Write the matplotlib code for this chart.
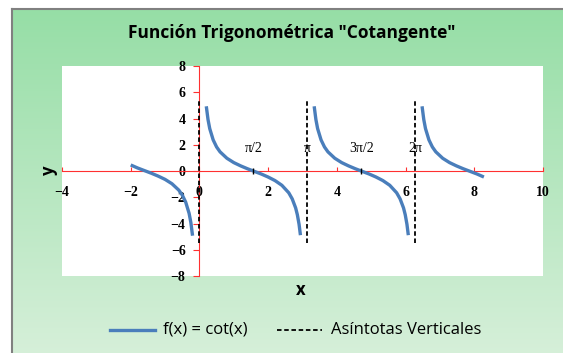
import matplotlib.pyplot as plt
import numpy as np
from matplotlib.lines import Line2D

# cot(x) samples, one list per branch
x1 = [-2.0, -1.8, -1.6, -1.4, -1.2, -1.0, -0.8, -0.6, -0.5, -0.4, -0.3, -0.25, -0.2]
y1 = [0.46, 0.23, 0.03, -0.17, -0.39, -0.64, -0.97, -1.46, -1.83, -2.37, -3.23, -3.92, -4.93]

x2 = [0.2, 0.25, 0.3, 0.4, 0.5, 0.6, 0.8, 1.0, 1.2, 1.4, 1.6, 1.8, 2.0, 2.2, 2.4, 2.6, 2.7, 2.8, 2.85, 2.9, 2.94]
y2 = [4.93, 3.92, 3.23, 2.37, 1.83, 1.46, 0.97, 0.64, 0.39, 0.17, -0.03, -0.23, -0.46, -0.73, -1.09, -1.66, -2.12, -2.81, -3.33, -4.06, -4.89]

x3 = [3.34, 3.39, 3.44, 3.54, 3.64, 3.74, 3.94, 4.14, 4.34, 4.54, 4.74, 4.94, 5.14, 5.34, 5.54, 5.74, 5.84, 5.94, 5.99, 6.04, 6.08]
y3 = [4.93, 3.92, 3.23, 2.37, 1.83, 1.46, 0.97, 0.64, 0.39, 0.17, -0.03, -0.23, -0.46, -0.73, -1.09, -1.66, -2.12, -2.81, -3.33, -4.06, -4.89]

x4 = [6.48, 6.53, 6.58, 6.68, 6.78, 6.88, 7.08, 7.28, 7.48, 7.68, 7.88, 8.08, 8.28]
y4 = [4.93, 3.92, 3.23, 2.37, 1.83, 1.46, 0.97, 0.64, 0.39, 0.17, -0.03, -0.23, -0.46]

asint_x = [0.0, 3.1416, 6.2832]
asint_y = [-5.5, 5.5]

marca_x = [1.5708, 3.1416, 4.7124, 6.2832]
marca_txt = ["π/2", "π", "3π/2", "2π"]
marca_y = 1.2

xticks = [-4, -2, 0, 2, 4, 6, 8, 10]
yticks = [-8, -6, -4, -2, 0, 2, 4, 6, 8]

azul = "#4A7EBB"
W, H = 563, 353

fig = plt.figure(figsize=(W / 100, H / 100), dpi=100)

# fondo degradado verde
bg = fig.add_axes([0, 0, 1, 1])
top = np.array([150, 222, 166]) / 255
bot = np.array([220, 241, 222]) / 255
t = np.linspace(0, 1, 200)[:, None]
grad = top * (1 - t) + bot * t
bg.imshow(grad[:, None, :], aspect="auto", extent=[12 / W, 1.2, -0.1, 1 - 9 / H])
bg.set_xlim(0, 1)
bg.set_ylim(0, 1)
bg.axis("off")
fig.add_artist(Line2D([12 / W, 1], [1 - 9 / H] * 2, color="#808080", lw=1.5))
fig.add_artist(Line2D([12 / W] * 2, [0, 1 - 9 / H], color="#808080", lw=1.5))

ax = fig.add_axes([62 / W, 1 - 276 / H, 481 / W, 210 / H])
ax.set_facecolor("white")
for xs, ys in [(x1, y1), (x2, y2), (x3, y3), (x4, y4)]:
    ax.plot(xs, ys, color=azul, lw=2.4, solid_capstyle="butt", zorder=3)
for xa in asint_x:
    ax.plot([xa, xa], asint_y, color="black", lw=1.3, ls=(0, (2.5, 1.5)), zorder=4)
ax.plot(marca_x[::2], [0, 0], ls="none", marker="|", color="black", ms=5, mew=1, zorder=5)
for xm, s in zip(marca_x, marca_txt):
    ax.text(xm, marca_y, s, ha="center", va="bottom", fontsize=10,
            family="Liberation Serif", zorder=5)

ax.set_xlim(-4, 10)
ax.set_ylim(-8, 8)
ax.spines["top"].set_visible(False)
ax.spines["right"].set_visible(False)
ax.spines["left"].set_position(("data", 0))
ax.spines["bottom"].set_position(("data", 0))
ax.spines["left"].set_color("#FF3030")
ax.spines["bottom"].set_color("#FF3030")
ax.set_xticks(xticks)
ax.set_yticks(yticks)
ax.tick_params(axis="x", direction="in", length=3, color="#FF3030", pad=11)
ax.tick_params(axis="y", direction="out", length=4, color="#FF3030", pad=6)
for lab in ax.get_xticklabels() + ax.get_yticklabels():
    lab.set_family("Liberation Serif")
    lab.set_fontweight("bold")
    lab.set_fontsize(10)

fig.text(292 / W, 1 - 33 / H, 'Función Trigonométrica "Cotangente"', ha="center", va="center",
         fontsize=12.5, fontweight="bold", family="Open Sans")
fig.text(49 / W, 1 - 170 / H, "y", rotation=90, ha="center", va="center",
         fontsize=12, fontweight="bold", family="Open Sans")
fig.text(301 / W, 1 - 290 / H, "x", ha="center", va="center",
         fontsize=12, fontweight="bold", family="Open Sans")

# leyenda
fig.add_artist(Line2D([110 / W, 155 / W], [1 - 330 / H] * 2, color=azul, lw=2.4))
fig.text(163 / W, 1 - 330 / H, "f(x) = cot(x)", ha="left", va="center", fontsize=12, family="Open Sans")
fig.add_artist(Line2D([277 / W, 322 / W], [1 - 330 / H] * 2, color="black", lw=1.3, ls=(0, (2.5, 1.5))))
fig.text(331 / W, 1 - 330 / H, "Asíntotas Verticales", ha="left", va="center", fontsize=12, family="Open Sans")

fig.savefig("out.png", dpi=100)
